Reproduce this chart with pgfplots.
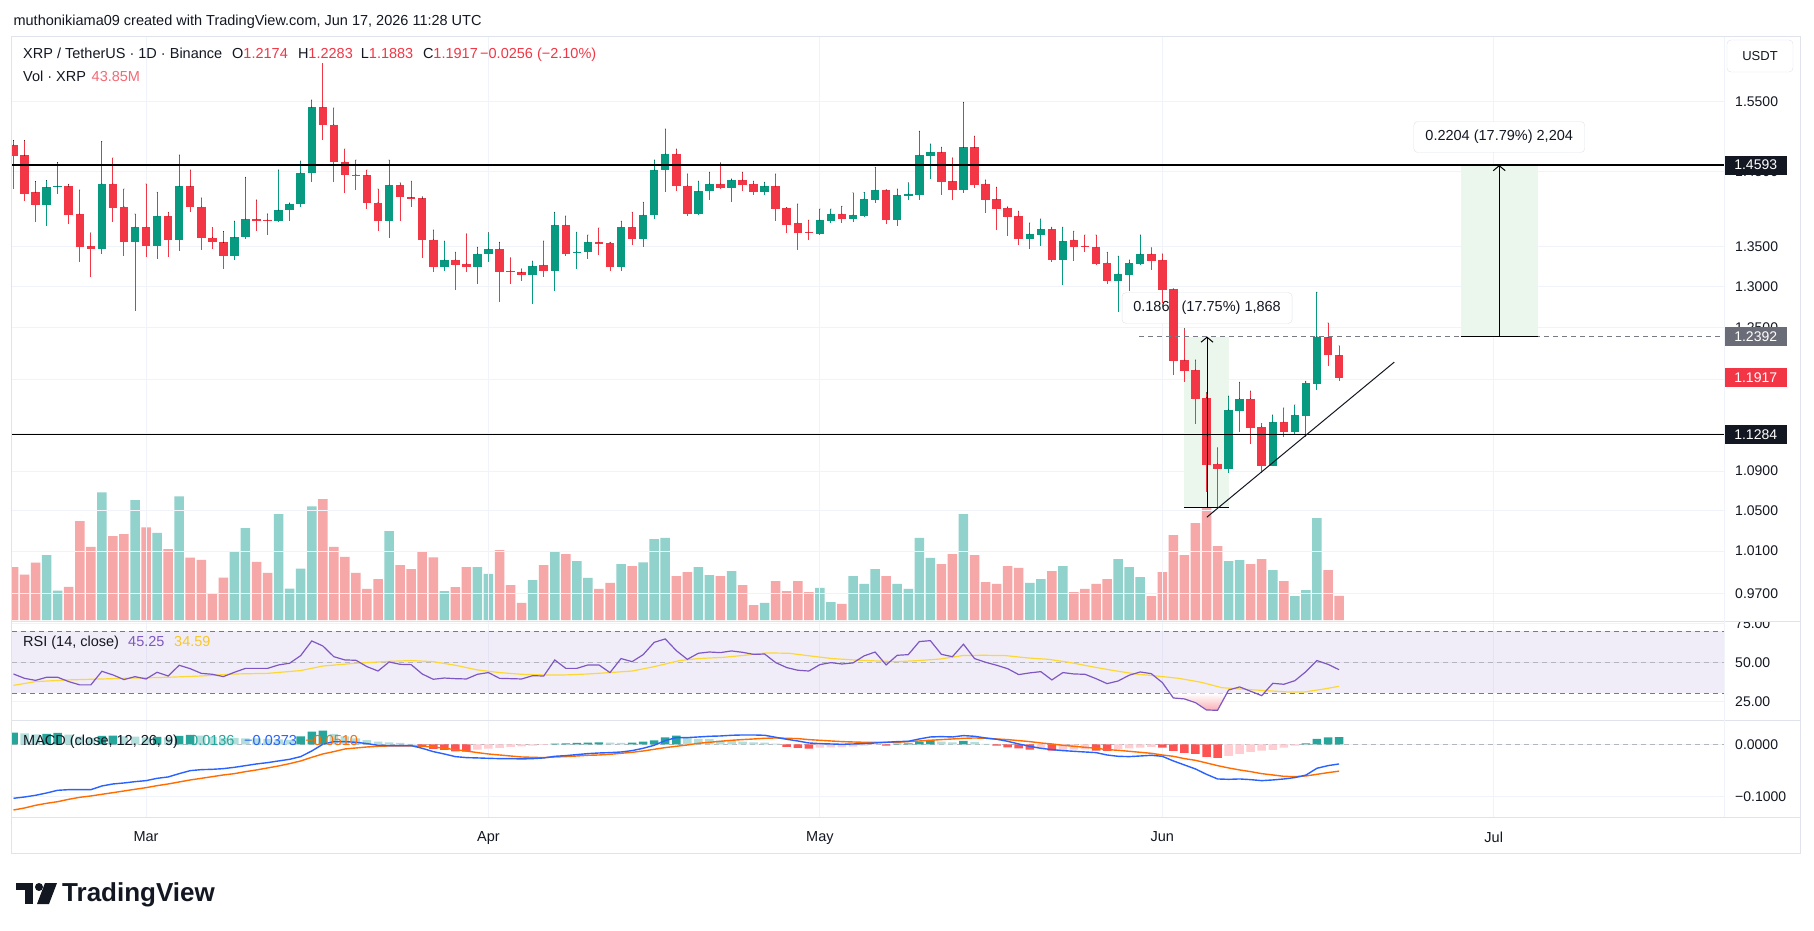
\documentclass[border=0pt]{standalone}
\usepackage{fontspec}
\setmainfont{Liberation Sans}
\usepackage{pgfplots}
\pgfplotsset{compat=1.18}
\usepackage{pgfplotstable}
\usetikzlibrary{arrows.meta}

\definecolor{cgreen}{RGB}{8,153,129}
\definecolor{cred}{RGB}{242,54,69}
\definecolor{cvolg}{RGB}{146,210,204}
\definecolor{cvolr}{RGB}{246,167,167}
\definecolor{cgrid}{RGB}{240,243,250}
\definecolor{cborder}{RGB}{224,227,235}
\definecolor{ctext}{RGB}{19,23,34}
\definecolor{cpurple}{RGB}{126,87,194}
\definecolor{cyellow}{RGB}{253,216,53}
\definecolor{cyeltext}{RGB}{247,200,40}
\definecolor{cblue}{RGB}{41,98,255}
\definecolor{corange}{RGB}{255,109,0}
\definecolor{chA}{RGB}{38,166,154}
\definecolor{chB}{RGB}{178,223,219}
\definecolor{chC}{RGB}{255,82,82}
\definecolor{chD}{RGB}{255,205,210}
\definecolor{cmeas}{RGB}{235,246,237}
\definecolor{cdash}{RGB}{120,123,134}
\definecolor{cbadge}{RGB}{106,109,120}

\newcommand{\fs}{\fontsize{14.5}{17}\selectfont}
\newcommand{\fa}{\fontsize{14}{16}\selectfont}

% ---------------- price / volume data (i = day index, 0 = Feb 17) ----------------
\pgfplotstableread{
i o h l c v
3 1.4052 1.4382 1.3769 1.4289 117.3
4 1.4289 1.4629 1.4202 1.4303 52.9
8 1.3477 1.4926 1.3413 1.4333 230.8
11 1.3555 1.3929 1.2701 1.3755 216.6
13 1.3513 1.4221 1.3349 1.3901 157.3
15 1.3591 1.4734 1.3444 1.4303 223.7
20 1.3385 1.3834 1.3335 1.3624 122.5
21 1.3624 1.4426 1.3605 1.3863 166.3
24 1.3839 1.4525 1.3825 1.3981 191.4
25 1.3981 1.4076 1.3834 1.4062 56.7
26 1.4062 1.4649 1.4024 1.4485 92.8
27 1.4485 1.5527 1.4362 1.5422 205.6
34 1.3839 1.4664 1.3619 1.4318 160.5
39 1.3245 1.3573 1.3195 1.3331 52.2
42 1.3236 1.3495 1.3035 1.3408 95.4
43 1.3408 1.3680 1.3308 1.3472 83.2
47 1.3146 1.3317 1.2789 1.3254 72.2
49 1.3195 1.3953 1.2946 1.3783 124.4
51 1.3422 1.3690 1.3222 1.3436 106.4
52 1.3436 1.3652 1.3349 1.3559 76.1
55 1.3236 1.3834 1.3195 1.3755 101.2
57 1.3605 1.4086 1.3500 1.3915 104.4
58 1.3915 1.4664 1.3868 1.4525 146.3
59 1.4525 1.5104 1.4226 1.4749 148.3
62 1.3929 1.4372 1.3920 1.4236 95.4
63 1.4236 1.4495 1.4115 1.4333 81.2
65 1.4279 1.4402 1.4091 1.4387 88.3
68 1.4221 1.4357 1.4182 1.4303 30.9
73 1.3666 1.3995 1.3652 1.3848 58.0
74 1.3834 1.3995 1.3811 1.3929 32.2
76 1.3863 1.4212 1.3820 1.3915 79.3
77 1.3901 1.4221 1.3895 1.4129 65.1
78 1.4115 1.4564 1.4076 1.4250 92.2
80 1.3848 1.4264 1.3769 1.4182 65.1
81 1.4168 1.4348 1.4115 1.4197 56.1
82 1.4182 1.5073 1.4115 1.4734 148.3
83 1.4719 1.4890 1.4402 1.4774 112.2
86 1.4250 1.5495 1.4212 1.4844 191.4
92 1.3600 1.3811 1.3472 1.3666 67.0
93 1.3652 1.3863 1.3509 1.3731 74.1
95 1.3331 1.3755 1.3017 1.3573 97.3
100 1.3066 1.3380 1.2680 1.3155 110.2
101 1.3141 1.3331 1.2946 1.3294 95.4
102 1.3281 1.3652 1.3270 1.3408 77.4
110 1.0924 1.1709 1.0883 1.1555 106.4
111 1.1543 1.1865 1.1317 1.1681 108.3
114 1.0954 1.1500 1.0950 1.1422 90.2
116 1.1317 1.1610 1.1298 1.1500 43.2
117 1.1488 1.1877 1.1263 1.1857 54.1
118 1.1845 1.2928 1.1777 1.2392 184.4
}\greentab

\pgfplotstableread{
i o h l c v
0 1.4875 1.4941 1.4270 1.4724 95.4
1 1.4730 1.4941 1.4100 1.4202 81.9
2 1.4221 1.4367 1.3825 1.4052 103.8
5 1.4303 1.4328 1.3802 1.3920 59.9
6 1.3929 1.4250 1.3299 1.3500 178.6
7 1.3509 1.3680 1.3119 1.3477 132.1
9 1.4333 1.4694 1.3825 1.4014 151.5
10 1.4024 1.4264 1.3385 1.3555 155.3
12 1.3755 1.4333 1.3371 1.3513 167.6
14 1.3901 1.3953 1.3371 1.3591 128.3
16 1.4303 1.4525 1.3958 1.4024 112.8
17 1.4024 1.4144 1.3463 1.3619 108.9
18 1.3619 1.3750 1.3477 1.3555 47.7
19 1.3555 1.3699 1.3222 1.3385 76.7
22 1.3863 1.4115 1.3703 1.3839 105.1
23 1.3848 1.3929 1.3656 1.3839 85.1
28 1.5422 1.6076 1.4946 1.5166 218.5
29 1.5166 1.5411 1.4362 1.4639 132.1
30 1.4639 1.4819 1.4216 1.4461 114.1
31 1.4461 1.4664 1.4255 1.4451 85.1
32 1.4451 1.4525 1.4000 1.4081 56.1
33 1.4081 1.4264 1.3703 1.3839 74.1
35 1.4318 1.4348 1.3839 1.4149 99.3
36 1.4149 1.4372 1.4024 1.4139 92.2
37 1.4139 1.4158 1.3362 1.3591 124.4
38 1.3591 1.3717 1.3182 1.3245 113.4
40 1.3331 1.3431 1.2959 1.3272 59.3
41 1.3281 1.3666 1.3173 1.3236 95.4
44 1.3472 1.3559 1.2802 1.3182 126.3
45 1.3191 1.3358 1.3035 1.3173 63.2
46 1.3173 1.3218 1.3070 1.3146 30.9
48 1.3267 1.3573 1.3119 1.3195 99.3
50 1.3783 1.3901 1.3385 1.3408 119.3
53 1.3559 1.3745 1.3399 1.3536 56.1
54 1.3550 1.3559 1.3195 1.3236 67.0
56 1.3755 1.3953 1.3527 1.3605 97.3
60 1.4749 1.4819 1.4241 1.4308 79.3
61 1.4308 1.4471 1.3905 1.3929 86.4
64 1.4333 1.4624 1.4264 1.4279 79.3
66 1.4387 1.4495 1.4236 1.4318 63.2
67 1.4333 1.4372 1.4182 1.4221 27.1
69 1.4303 1.4471 1.3834 1.3995 70.3
70 1.4010 1.4010 1.3680 1.3788 52.2
71 1.3811 1.4062 1.3458 1.3680 70.3
72 1.3690 1.3848 1.3587 1.3680 50.3
75 1.3929 1.4033 1.3811 1.3863 29.0
79 1.4250 1.4255 1.3797 1.3848 79.3
84 1.4774 1.4844 1.4182 1.4357 101.2
85 1.4372 1.4694 1.4115 1.4250 119.3
87 1.4844 1.5002 1.4279 1.4318 117.3
88 1.4333 1.4387 1.3943 1.4115 68.3
89 1.4129 1.4289 1.3717 1.3995 65.1
90 1.4010 1.4024 1.3638 1.3886 97.3
91 1.3901 1.3967 1.3522 1.3600 94.1
94 1.3731 1.3755 1.3299 1.3331 88.3
96 1.3587 1.3703 1.3317 1.3495 50.3
97 1.3509 1.3652 1.3431 1.3495 56.1
98 1.3495 1.3652 1.3267 1.3281 65.1
99 1.3294 1.3431 1.3035 1.3066 74.1
103 1.3408 1.3486 1.3204 1.3322 43.2
104 1.3331 1.3408 1.2797 1.2959 86.4
105 1.2968 1.2968 1.1946 1.2106 153.4
106 1.2118 1.2487 1.1869 1.1991 117.3
107 1.2004 1.2118 1.1406 1.1681 175.3
108 1.1689 1.1745 1.0684 1.0965 264.3
109 1.0976 1.1145 1.0524 1.0924 133.4
112 1.1681 1.1765 1.1191 1.1363 101.2
113 1.1371 1.1406 1.0883 1.0954 110.2
115 1.1422 1.1578 1.1263 1.1317 70.3
119 1.2385 1.2555 1.2048 1.2174 90.2
120 1.2174 1.2283 1.1883 1.1917 43.85
}\redtab

% ---------------- RSI ----------------
\pgfplotstableread{
i r
0 42.5
1 39.7
2 38.4
3 40.4
4 40.4
5 37.6
6 35.5
7 35.5
8 44.2
9 41.9
10 38.9
11 40.8
12 39.3
13 43.6
14 41.2
15 48.1
16 45.9
17 42.9
18 42.3
19 40.8
20 43.6
21 46.1
22 46.1
23 46.1
24 48.3
25 49.4
26 54.3
27 63.7
28 60.5
29 53.6
30 51.5
31 51.3
32 47.2
33 44.4
34 50.2
35 48.7
36 48.5
37 42.5
38 39.1
39 39.9
40 39.5
41 39.3
42 42.3
43 43.4
44 39.7
45 39.5
46 39.3
47 41.4
48 41.2
49 51.5
50 46.1
51 46.1
52 48.3
53 48.3
54 43.4
55 52.4
56 50.4
57 54.9
58 62.8
59 65.0
60 57.5
61 51.9
62 55.8
63 56.6
64 56.2
65 57.3
66 56.4
67 55.1
68 55.3
69 49.8
70 46.6
71 44.9
72 44.4
73 48.5
74 49.8
75 48.9
76 49.6
77 54.1
78 56.6
79 48.3
80 54.5
81 54.9
82 63.3
83 63.9
84 55.1
85 53.6
86 61.6
87 52.4
88 50.0
89 48.1
90 45.9
91 42.1
92 43.2
93 44.0
94 38.7
95 43.4
96 42.5
97 42.3
98 39.5
99 36.3
100 38.0
101 41.7
102 43.8
103 42.7
104 37.0
105 27.1
106 26.5
107 24.1
108 19.4
109 19.2
110 32.2
111 34.2
112 31.4
113 28.6
114 36.5
115 35.9
116 38.2
117 44.0
118 51.1
119 48.7
120 45.25
}\rsitab

\pgfplotstableread{
i m
0 35.2
2 37.6
5 38.7
8 39.3
11 39.9
14 40.4
17 41.2
20 42.5
23 42.9
26 44.7
28 47.6
31 49.4
34 50.6
36 51.1
38 50.4
40 48.1
42 45.1
44 43.4
46 42.3
48 41.9
50 41.9
52 42.5
54 43.4
56 44.4
58 47.2
60.3 51.1
62 52.4
64.3 53.2
66.2 54.5
68.2 56.0
70.2 55.8
72.1 54.1
74.1 52.4
76.1 51.5
78 50.9
80 50.4
81.9 51.1
83.9 52.1
85.9 54.3
87.8 54.5
89.8 54.3
91.8 52.8
93.7 51.9
95.7 49.8
97.6 47.2
99.6 44.7
101.6 42.5
103.5 41.2
105.5 39.7
107.5 37.2
109.4 33.7
111.4 32.7
113.4 31.8
115.3 31.0
116.9 31.0
118.5 32.7
120 34.59
}\rsimatab

\pgfplotstableread{
i r
104.7 30
105 27.1
106 26.5
107 24.1
108 19.4
109 19.2
109.83 30
}\ostab

% ---------------- MACD ----------------
\pgfplotstableread{
i m s
0 -0.1025 -0.1247
1 -0.1000 -0.1209
2 -0.0968 -0.1158
3 -0.0924 -0.1120
4 -0.0873 -0.1089
5 -0.0861 -0.1044
6 -0.0861 -0.1006
7 -0.0861 -0.0981
8 -0.0791 -0.0949
9 -0.0753 -0.0918
10 -0.0734 -0.0886
11 -0.0709 -0.0854
12 -0.0690 -0.0823
13 -0.0646 -0.0785
14 -0.0620 -0.0753
15 -0.0557 -0.0715
16 -0.0500 -0.0677
17 -0.0481 -0.0646
18 -0.0475 -0.0614
19 -0.0462 -0.0582
20 -0.0437 -0.0557
21 -0.0405 -0.0519
22 -0.0373 -0.0487
23 -0.0348 -0.0449
24 -0.0316 -0.0411
25 -0.0285 -0.0367
26 -0.0234 -0.0316
27 -0.0127 -0.0247
28 0.0000 -0.0184
29 0.0051 -0.0139
30 0.0051 -0.0089
31 0.0038 -0.0070
32 0.0013 -0.0051
33 -0.0019 -0.0038
34 -0.0025 -0.0032
35 -0.0025 -0.0032
36 -0.0025 -0.0032
37 -0.0076 -0.0038
38 -0.0139 -0.0051
39 -0.0184 -0.0076
40 -0.0234 -0.0101
41 -0.0253 -0.0127
42 -0.0259 -0.0158
43 -0.0266 -0.0184
44 -0.0272 -0.0203
45 -0.0272 -0.0222
46 -0.0278 -0.0241
47 -0.0272 -0.0247
48 -0.0259 -0.0253
49 -0.0228 -0.0241
50 -0.0215 -0.0234
51 -0.0196 -0.0222
52 -0.0177 -0.0209
53 -0.0165 -0.0203
54 -0.0158 -0.0190
55 -0.0146 -0.0171
56 -0.0120 -0.0152
57 -0.0076 -0.0127
58 -0.0019 -0.0095
59 0.0070 -0.0063
60 0.0127 -0.0038
61 0.0127 -0.0013
62 0.0139 0.0019
63 0.0152 0.0038
64 0.0158 0.0057
65 0.0171 0.0076
66 0.0177 0.0089
67 0.0177 0.0101
68 0.0171 0.0114
69 0.0133 0.0120
70 0.0095 0.0114
71 0.0063 0.0108
72 0.0025 0.0089
73 0.0013 0.0076
74 0.0006 0.0063
75 0.0000 0.0051
76 0.0006 0.0044
77 0.0013 0.0038
78 0.0025 0.0038
79 0.0038 0.0038
80 0.0051 0.0038
81 0.0057 0.0051
82 0.0101 0.0063
83 0.0139 0.0076
84 0.0146 0.0089
85 0.0139 0.0101
86 0.0165 0.0114
87 0.0152 0.0120
88 0.0120 0.0114
89 0.0095 0.0101
90 0.0057 0.0089
91 0.0006 0.0070
92 -0.0038 0.0051
93 -0.0076 0.0025
94 -0.0101 0.0006
95 -0.0120 -0.0019
96 -0.0133 -0.0038
97 -0.0146 -0.0057
98 -0.0158 -0.0076
99 -0.0203 -0.0101
100 -0.0228 -0.0114
101 -0.0234 -0.0133
102 -0.0222 -0.0152
103 -0.0209 -0.0171
104 -0.0228 -0.0203
105 -0.0316 -0.0228
106 -0.0392 -0.0272
107 -0.0468 -0.0304
108 -0.0570 -0.0354
109 -0.0658 -0.0405
110 -0.0665 -0.0449
111 -0.0658 -0.0487
112 -0.0671 -0.0519
113 -0.0690 -0.0557
114 -0.0677 -0.0582
115 -0.0658 -0.0608
116 -0.0632 -0.0614
117 -0.0585 -0.0601
118 -0.0455 -0.0570
119 -0.0405 -0.0538
120 -0.0373 -0.0510
}\macdtab

\pgfplotstableread{
i h
0 0.0222
3 0.0196
4 0.0215
8 0.0158
9 0.0165
13 0.0139
15 0.0158
16 0.0177
26 0.0150
27 0.0240
28 0.0260
49 0.0013
50 0.0019
51 0.0025
52 0.0032
53 0.0038
56 0.0032
57 0.0051
58 0.0076
59 0.0133
60 0.0165
80 0.0013
81 0.0019
82 0.0051
83 0.0082
86 0.0063
117 0.0019
118 0.0101
119 0.0133
120 0.0136
}\histA

\pgfplotstableread{
i h
1 0.0209
2 0.0190
5 0.0184
6 0.0146
7 0.0120
10 0.0152
11 0.0146
12 0.0133
14 0.0133
17 0.0165
18 0.0139
19 0.0120
20 0.0120
21 0.0114
22 0.0114
23 0.0101
24 0.0095
25 0.0082
29 0.0200
30 0.0150
31 0.0110
32 0.0080
33 0.0050
34 0.0035
35 0.0025
36 0.0010
54 0.0032
55 0.0025
61 0.0120
62 0.0101
63 0.0098
64 0.0070
65 0.0063
66 0.0051
67 0.0038
68 0.0030
69 0.0013
84 0.0051
85 0.0038
87 0.0044
88 0.0006
}\histB

\pgfplotstableread{
i h
37 -0.0040
38 -0.0089
39 -0.0108
40 -0.0133
41 -0.0140
70 -0.0051
71 -0.0070
72 -0.0082
79 -0.0025
89 -0.0025
90 -0.0057
91 -0.0076
92 -0.0101
94 -0.0120
98 -0.0120
99 -0.0127
104 -0.0063
105 -0.0127
106 -0.0165
107 -0.0184
108 -0.0241
109 -0.0259
}\histC

\pgfplotstableread{
i h
42 -0.0101
43 -0.0082
44 -0.0070
45 -0.0051
46 -0.0038
47 -0.0025
48 -0.0010
73 -0.0063
74 -0.0057
75 -0.0055
76 -0.0045
77 -0.0025
78 -0.0005
93 -0.0076
95 -0.0108
96 -0.0101
97 -0.0095
100 -0.0089
101 -0.0076
102 -0.0063
103 -0.0051
110 -0.0222
111 -0.0184
112 -0.0146
113 -0.0120
114 -0.0108
115 -0.0063
116 -0.0025
}\histD

\pgfplotsset{
  tvbase/.style={
    scale only axis, width=1712pt, anchor=south west,
    xmin=-0.136, xmax=154.85,
    axis line style={draw=none},
    major tick length=0pt,
    xtick={12,43,73,104,134}, xticklabels={},
    grid=major, major grid style={draw=cgrid, line width=1pt},
    tick label style={font=\fa, text=ctext},
    yticklabel pos=right,
    yticklabel style={anchor=west, inner sep=0pt, xshift=11pt},
  },
  wick/.style={only marks, mark=*, mark size=0.1pt, mark options={draw=none, fill=none},
    error bars/.cd, y dir=minus, y explicit,
    error mark=none, error bar style={draw=#1, line width=1pt}},
  body/.style={only marks, mark=*, mark size=0.1pt, mark options={draw=none, fill=none},
    error bars/.cd, y dir=minus, y explicit,
    error mark=none, error bar style={draw=#1, line width=8.5pt}},
}

\begin{document}
\begin{tikzpicture}
\useasboundingbox (0pt,0pt) rectangle (1814pt,930pt);
\fill[white] (0pt,0pt) rectangle (1814pt,930pt);

% ---------- volume (overlay in price pane) ----------
\begin{axis}[scale only axis, width=1712pt, height=584pt, at={(12pt,309pt)}, anchor=south west,
  xmin=-0.136, xmax=154.85, ymin=-1.8, ymax=1054, hide axis]
\addplot[ybar, bar width=9.5pt, bar shift=0pt, fill=cvolg, draw=none] table[x=i,y=v]{\greentab};
\addplot[ybar, bar width=9.5pt, bar shift=0pt, fill=cvolr, draw=none] table[x=i,y=v]{\redtab};
\end{axis}

% ---------- price pane (log scale: y = ln price) ----------
\begin{axis}[tvbase, height=584pt, at={(12pt,309pt)},
  ymin=-0.05665, ymax=0.50002,
  ytick={-0.03046,0.00995,0.04879,0.08618,0.12222,0.17395,0.22314,0.26236,0.30010,0.37156,0.43825},
  yticklabels={0.9700,1.0100,1.0500,1.0900,1.1300,1.1900,1.2500,1.3000,1.3500,1.4500,1.5500}]
% measurement boxes
\fill[cmeas] (axis cs:105.97,0.05107) rectangle (axis cs:110.06,0.21448);
\fill[cmeas] (axis cs:131,0.21448) rectangle (axis cs:138,0.37796);
\node[fill=white, draw=cborder, rounded corners=4pt, minimum width=170pt, minimum height=31pt,
  inner sep=0pt, font=\fs, text=ctext] at (axis cs:108.05,0.2417) {0.1868 (17.75\%) 1,868};
% candles
\addplot[wick=cgreen] table[x=i, y expr={ln(\thisrow{h})}, y error expr={ln(\thisrow{h})-ln(\thisrow{l})}]{\greentab};
\addplot[body=cgreen] table[x=i, y expr={ln(\thisrow{c})}, y error expr={max(ln(\thisrow{c})-ln(\thisrow{o}),0.0012)}]{\greentab};
\addplot[wick=cred] table[x=i, y expr={ln(\thisrow{h})}, y error expr={ln(\thisrow{h})-ln(\thisrow{l})}]{\redtab};
\addplot[body=cred] table[x=i, y expr={ln(\thisrow{o})}, y error expr={max(ln(\thisrow{o})-ln(\thisrow{c}),0.0012)}]{\redtab};
% drawings
\draw[black, line width=1.3pt] (axis cs:-0.136,0.37796) -- (axis cs:154.85,0.37796);
\draw[black, line width=1.3pt] (axis cs:-0.136,0.12080) -- (axis cs:154.85,0.12080);
\draw[cdash, line width=1pt, dash pattern=on 5pt off 4pt] (axis cs:101.9,0.21448) -- (axis cs:154.85,0.21448);
\draw[black, line width=1pt] (axis cs:105.97,0.05107) -- (axis cs:110.06,0.05107);
\draw[black, line width=1pt] (axis cs:131,0.21448) -- (axis cs:138,0.21448);
\draw[black, line width=1pt, -{Straight Barb[length=5pt,width=12pt]}] (axis cs:108.05,0.05107) -- (axis cs:108.05,0.21448);
\draw[black, line width=1pt, -{Straight Barb[length=5pt,width=12pt]}] (axis cs:134.5,0.21448) -- (axis cs:134.5,0.37796);
\draw[ctext, line width=1pt] (axis cs:108.03,0.04229) -- (axis cs:125.0,0.19013);
\node[fill=white, draw=cborder, rounded corners=4pt, minimum width=171pt, minimum height=31pt,
  inner sep=0pt, font=\fs, text=ctext] at (axis cs:134.5,0.4047) {0.2204 (17.79\%) 2,204};
\coordinate (b1) at (axis cs:154.85,0.37796);
\coordinate (b2) at (axis cs:154.85,0.21448);
\coordinate (b3) at (axis cs:154.85,0.17538);
\coordinate (b4) at (axis cs:154.85,0.12080);
\end{axis}

% ---------- RSI pane ----------
\begin{axis}[tvbase, height=99pt, at={(12pt,210pt)},
  ymin=12.97, ymax=76.5, ytick={25,50,75}, yticklabels={25.00,50.00,75.00}]
\fill[cpurple, fill opacity=0.1] (axis cs:-0.136,30) rectangle (axis cs:154.85,70);
\draw[cdash, line width=1pt, dash pattern=on 5pt off 4pt] (axis cs:-0.136,70) -- (axis cs:154.85,70);
\draw[cdash!55, line width=1pt, dash pattern=on 5pt off 4pt] (axis cs:-0.136,50) -- (axis cs:154.85,50);
\draw[cdash, line width=1pt, dash pattern=on 5pt off 4pt] (axis cs:-0.136,30) -- (axis cs:154.85,30);
\addplot[draw=none, top color=white, bottom color=cred!40] table[x=i,y=r]{\ostab};
\addplot[cyellow, line width=1.2pt] table[x=i,y=m]{\rsimatab};
\addplot[cpurple, line width=1.2pt] table[x=i,y=r]{\rsitab};
\end{axis}

% ---------- MACD pane ----------
\begin{axis}[tvbase, height=97pt, at={(12pt,113pt)},
  ymin=-0.138, ymax=0.0461, ytick={-0.1,0}, yticklabels={−0.1000,0.0000},
  xticklabels={Mar,Apr,May,Jun,Jul}, xticklabel style={font=\fs, yshift=-11pt}]
\draw[cdash!55, line width=1pt, dash pattern=on 5pt off 4pt] (axis cs:-0.136,0) -- (axis cs:154.85,0);
\addplot[ybar, bar width=8.5pt, bar shift=0pt, fill=chA, draw=none] table[x=i,y=h]{\histA};
\addplot[ybar, bar width=8.5pt, bar shift=0pt, fill=chB, draw=none] table[x=i,y=h]{\histB};
\addplot[ybar, bar width=8.5pt, bar shift=0pt, fill=chC, draw=none] table[x=i,y=h]{\histC};
\addplot[ybar, bar width=8.5pt, bar shift=0pt, fill=chD, draw=none] table[x=i,y=h]{\histD};
\addplot[corange, line width=1.4pt] table[x=i,y=s]{\macdtab};
\addplot[cblue, line width=1.4pt] table[x=i,y=m]{\macdtab};
\end{axis}

% cover top half of the 75.00 label
\fill[white] (1725pt,309pt) rectangle (1799pt,322pt);

% ---------- badges ----------
\node[fill=ctext, text=white, font=\fa, anchor=west, minimum width=63pt, minimum height=19pt, inner sep=0pt] at (b1) {1.4593};
\node[fill=cbadge, text=white, font=\fa, anchor=west, minimum width=63pt, minimum height=19pt, inner sep=0pt] at (b2) {1.2392};
\node[fill=cred, text=white, font=\fa, anchor=west, minimum width=63pt, minimum height=19pt, inner sep=0pt] at (b3) {1.1917};
\node[fill=ctext, text=white, font=\fa, anchor=west, minimum width=63pt, minimum height=19pt, inner sep=0pt] at (b4) {1.1284};

% ---------- frame and separators ----------
\draw[cborder, line width=1pt] (12pt,309pt) -- (1800pt,309pt);
\draw[cborder, line width=1pt] (12pt,210pt) -- (1800pt,210pt);
\draw[cborder, line width=1pt] (12pt,113pt) -- (1800pt,113pt);
\draw[cgrid, line width=1pt] (1724pt,113pt) -- (1724pt,893pt);
\draw[cborder, line width=1pt] (11.6pt,77pt) rectangle (1800pt,893pt);
\draw[cborder, fill=white, rounded corners=4pt] (1727pt,858pt) rectangle (1793pt,890pt);
\node[font=\fontsize{13}{15}\selectfont, text=ctext] at (1760pt,874pt) {USDT};

% ---------- texts ----------
\node[anchor=base west, inner sep=0pt, font=\fs, text=ctext] at (13.4pt,904pt) {muthonikiama09 created with TradingView.com, Jun 17, 2026 11:28 UTC};
\node[anchor=base west, inner sep=0pt, font=\fs, text=ctext] at (23pt,871.5pt) {XRP / TetherUS · 1D · Binance};
\node[anchor=base west, inner sep=0pt, font=\fs, text=ctext] at (232pt,871.5pt) {O\textcolor{cred}{1.2174}};
\node[anchor=base west, inner sep=0pt, font=\fs, text=ctext] at (297.8pt,871.5pt) {H\textcolor{cred}{1.2283}};
\node[anchor=base west, inner sep=0pt, font=\fs, text=ctext] at (360.7pt,871.5pt) {L\textcolor{cred}{1.1883}};
\node[anchor=base west, inner sep=0pt, font=\fs, text=ctext] at (422.8pt,871.5pt) {C\textcolor{cred}{1.1917}};
\node[anchor=base west, inner sep=0pt, font=\fs, text=cred] at (480pt,871.5pt) {−0.0256 (−2.10\%)};
\node[anchor=base west, inner sep=0pt, font=\fs, text=ctext] at (23pt,848.8pt) {Vol · XRP};
\node[anchor=base west, inner sep=0pt, font=\fs, text=cred!75] at (91.5pt,848.8pt) {43.85M};
\node[anchor=base west, inner sep=0pt, font=\fs, text=ctext] at (23pt,284pt) {RSI (14, close)};
\node[anchor=base west, inner sep=0pt, font=\fs, text=cpurple] at (128pt,284pt) {45.25};
\node[anchor=base west, inner sep=0pt, font=\fs, text=cyeltext] at (174pt,284pt) {34.59};
\node[anchor=base west, inner sep=0pt, font=\fs, text=ctext] at (23pt,184.7pt) {MACD (close, 12, 26, 9)};
\node[anchor=base west, inner sep=0pt, font=\fs, text=chA] at (190pt,184.7pt) {0.0136};
\node[anchor=base west, inner sep=0pt, font=\fs, text=cblue] at (244pt,184.7pt) {−0.0373};
\node[anchor=base west, inner sep=0pt, font=\fs, text=corange] at (305pt,184.7pt) {−0.0510};

% ---------- TradingView logo ----------
\fill[ctext] (16pt,40pt) rectangle (33pt,47pt);
\fill[ctext] (25pt,26pt) rectangle (33pt,47pt);
\fill[ctext] (39pt,43pt) circle (4pt);
\fill[ctext] (45pt,47pt) -- (57pt,47pt) -- (49pt,26pt) -- (37pt,26pt) -- cycle;
\node[anchor=base west, inner sep=0pt, font=\bfseries\fontsize{26}{30}\selectfont, text=ctext] at (62pt,29pt) {TradingView};
\end{tikzpicture}
\end{document}
